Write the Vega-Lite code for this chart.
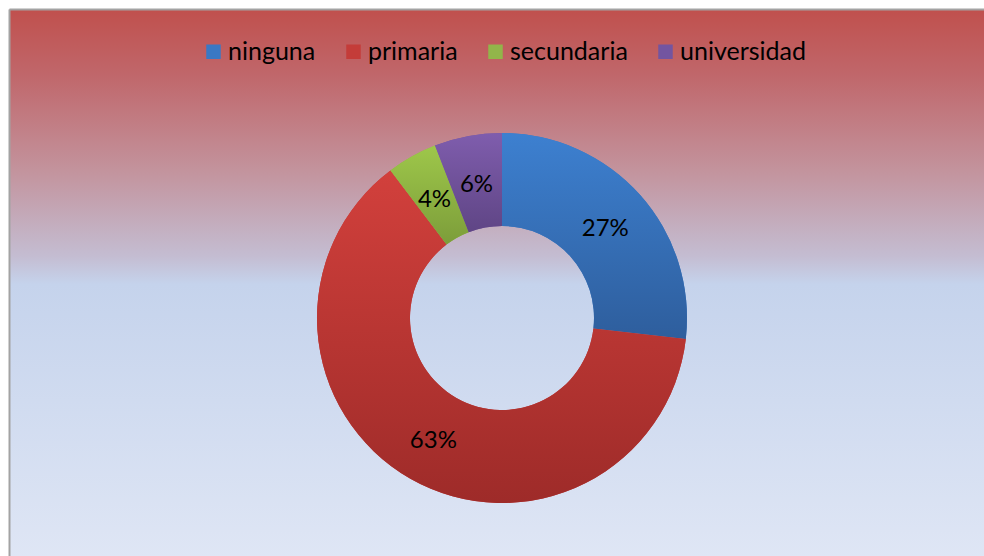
{
  "$schema": "https://vega.github.io/schema/vega-lite/v6.json",
  "width": 977.5,
  "height": 549.5,
  "autosize": {"type": "none"},
  "padding": {"left": 9.5, "top": 9.5, "right": 0, "bottom": 0},
  "background": "white",
  "config": {"view": {"stroke": null}, "font": "Lato"},
  "datasets": {
    "edu": [
      {"cat": "ninguna", "value": 26.8, "label": "27%"},
      {"cat": "primaria", "value": 62.9, "label": "63%"},
      {"cat": "secundaria", "value": 4.4, "label": "4%"},
      {"cat": "universidad", "value": 5.9, "label": "6%"}
    ],
    "bg": [{"panel": "fondo"}]
  },
  "layer": [
    {
      "data": {"name": "bg"},
      "mark": {
        "type": "rect",
        "fill": {
          "gradient": "linear", "x1": 0, "y1": 0, "x2": 0, "y2": 1,
          "stops": [
            {"offset": 0, "color": "#C0504D"},
            {"offset": 0.12, "color": "#C0676B"},
            {"offset": 0.3, "color": "#C3959F"},
            {"offset": 0.45, "color": "#C4BDD2"},
            {"offset": 0.5, "color": "#C5D3EC"},
            {"offset": 1, "color": "#DFE6F5"}
          ]
        },
        "stroke": "#A3A3A3",
        "strokeWidth": 2,
        "strokeDash": [977.5, 1527, 549.5, 0]
      },
      "encoding": {}
    },
    {
      "data": {"name": "edu"},
      "mark": {"type": "arc", "innerRadius": 92, "outerRadius": 185, "xOffset": 3.75, "yOffset": 33.75},
      "encoding": {
        "theta": {"field": "value", "type": "quantitative", "stack": true},
        "order": {"field": "cat", "sort": "ascending"},
        "color": {
          "field": "cat", "type": "nominal",
          "scale": {"domain": ["ninguna", "primaria", "secundaria", "universidad"], "range": ["#3A78C4", "#C43C39", "#92B54A", "#7355A0"]},
          "legend": {
            "title": null, "orient": "none", "direction": "horizontal",
            "legendX": 191.5, "legendY": 29.5,
            "symbolType": "square", "symbolSize": 210, "symbolStrokeWidth": 0,
            "labelFontSize": 25, "labelColor": "#000000", "labelOffset": 2,
            "columnPadding": 25, "labelLimit": 300
          }
        }
      }
    },
    {
      "data": {"name": "edu"},
      "mark": {"type": "arc", "innerRadius": 92, "outerRadius": 185, "xOffset": 3.75, "yOffset": 33.75},
      "encoding": {
        "theta": {"field": "value", "type": "quantitative", "stack": true},
        "order": {"field": "cat", "sort": "ascending"},
        "detail": {"field": "cat", "type": "nominal"},
        "fill": {
          "condition": [
            {"test": "datum.cat === 'ninguna'", "value": {"gradient": "linear", "x1": 0, "y1": 0, "x2": 0, "y2": 1, "stops": [{"offset": 0, "color": "#3D80D0"}, {"offset": 1, "color": "#2E5E9D"}]}},
            {"test": "datum.cat === 'primaria'", "value": {"gradient": "linear", "x1": 0, "y1": 0, "x2": 0, "y2": 1, "stops": [{"offset": 0, "color": "#D2403C"}, {"offset": 1, "color": "#9E2B29"}]}},
            {"test": "datum.cat === 'secundaria'", "value": {"gradient": "linear", "x1": 0, "y1": 0, "x2": 0, "y2": 1, "stops": [{"offset": 0, "color": "#9EC74A"}, {"offset": 1, "color": "#7C9D3A"}]}}
          ],
          "value": {"gradient": "linear", "x1": 0, "y1": 0, "x2": 0, "y2": 1, "stops": [{"offset": 0, "color": "#7F5DAD"}, {"offset": 1, "color": "#5F4585"}]}
        }
      }
    },
    {
      "data": {"name": "edu"},
      "mark": {"type": "text", "radius": 138.5, "fontSize": 24, "color": "#000000", "xOffset": 3.75, "yOffset": 33.75, "dy": 3},
      "encoding": {
        "theta": {"field": "value", "type": "quantitative", "stack": true},
        "order": {"field": "cat", "sort": "ascending"},
        "detail": {"field": "cat", "type": "nominal"},
        "text": {"field": "label", "type": "nominal"}
      }
    }
  ]
}
